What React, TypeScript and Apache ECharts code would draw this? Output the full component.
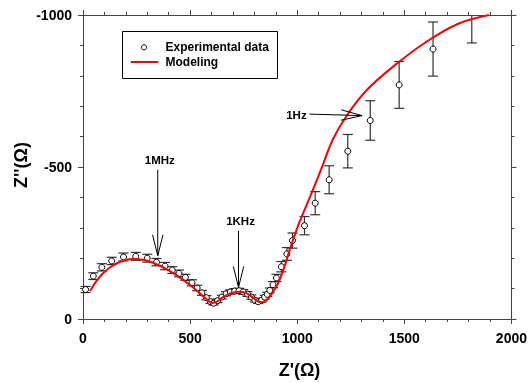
import { useEffect, useRef } from "react";
import * as echarts from "echarts";

// Experimental data: Z' (Ω), Z'' (Ω), error (Ω)
const expX = [12, 48, 88, 134, 189, 246, 300, 343, 383, 417, 448, 478, 509, 533, 555, 576, 595, 610, 628, 648, 668, 688, 708, 728, 748, 768, 786, 802, 818, 834, 848, 860, 872, 887, 903, 926, 952, 978, 1034, 1084, 1149, 1236, 1341, 1476, 1634, 1815];
const expZ = [-97, -141, -170, -191, -204, -206, -200, -187, -174, -161, -150, -137, -119, -102, -86, -70, -57, -52, -60, -72, -83, -89, -92, -93, -89, -82, -72, -62, -57, -62, -72, -81, -94, -113, -135, -172, -214, -258, -307, -381, -458, -552, -653, -770, -888, -1009];
const expErr = [10, 11, 12, 12, 13, 13, 13, 12, 12, 11, 11, 10, 10, 9, 8, 7, 6, 6, 6, 6, 7, 7, 8, 8, 8, 8, 7, 6, 6, 6, 6, 7, 8, 10, 12, 17, 21, 25, 30, 38, 46, 55, 65, 77, 89, 101];

// Model curve
const modelX = [33, 60, 90, 130, 180, 232, 290, 343, 400, 440, 480, 524, 560, 588, 605, 622, 650, 690, 726, 760, 790, 815, 835, 855, 880, 911, 942, 965, 1003, 1057, 1111, 1165, 1234, 1326, 1449, 1603, 1757, 1895];
const modelZ = [-92, -122, -148, -172, -190, -197, -193, -180, -160, -142, -122, -98, -76, -58, -53, -56, -70, -85, -90, -86, -72, -58, -55, -61, -82, -118, -175, -228, -305, -397, -491, -589, -672, -754, -831, -912, -973, -1000];

const xMin = 0, xMax = 2000, xStep = 500;
const yMin = -1000, yMax = 0, yStep = 500;

const legendLabels = ["Experimental data", "Modeling"];
const axisNames = ["Z'(Ω)", "Z''(Ω)"];

// Frequency annotations: label, arrow start and arrow tip in data units
const annLabels = ["1MHz", "1KHz", "1Hz"];
const annFrom = [[349, -491], [726, -290], [1057, -674]];
const annTo = [[349, -208], [726, -104], [1303, -669]];

const FONT = "'Liberation Sans', Arial, Helvetica, sans-serif";
const AXIS_COLOR = "#444";

export default function App() {
  const ref = useRef<HTMLDivElement>(null);

  useEffect(() => {
    if (!ref.current) return;
    const chart = echarts.init(ref.current, null, { renderer: "svg" });

    const expData = expX.map((x, i) => [x, expZ[i], expErr[i]]);
    const modelData = modelX.map((x, i) => [x, modelZ[i]]);

    const axisCommon = {
      axisLine: { show: true, onZero: false, lineStyle: { color: AXIS_COLOR, width: 1 } },
      axisTick: { show: true, inside: false, length: 5, lineStyle: { color: AXIS_COLOR, width: 1 } },
      minorTick: { show: true, splitNumber: 5, length: 3, lineStyle: { color: AXIS_COLOR, width: 1 } },
      splitLine: { show: false },
      minorSplitLine: { show: false },
    };
    const labelStyle = {
      color: "#000",
      fontWeight: "bold" as const,
      fontSize: 14,
      fontFamily: FONT,
      formatter: (v: number) => String(v),
    };

    const option: any = {
      animation: false,
      grid: { left: 83, right: 14, top: 15, bottom: 64, containLabel: false },
      xAxis: [
        { type: "value", min: xMin, max: xMax, interval: xStep, position: "bottom", ...axisCommon, axisLabel: { ...labelStyle, margin: 12 } },
        { type: "value", min: xMin, max: xMax, interval: xStep, position: "top", ...axisCommon, axisLabel: { show: false } },
      ],
      yAxis: [
        { type: "value", min: yMin, max: yMax, interval: yStep, inverse: true, position: "left", ...axisCommon, axisLabel: { ...labelStyle, margin: 11 } },
        { type: "value", min: yMin, max: yMax, interval: yStep, inverse: true, position: "right", ...axisCommon, axisLabel: { show: false } },
      ],
      series: [
        {
          type: "custom",
          name: "errors",
          xAxisIndex: 0,
          yAxisIndex: 0,
          data: expData,
          encode: { x: 0, y: 1 },
          z: 2,
          renderItem: (params: any, api: any) => {
            const x = api.value(0);
            const y = api.value(1);
            const e = api.value(2);
            const top = api.coord([x, y - e]);
            const bot = api.coord([x, y + e]);
            const cs = params.coordSys;
            const half = 5;
            const style = { stroke: "#333", lineWidth: 1.2 };
            const children: any[] = [];
            const yTop = Math.max(top[1], cs.y);
            children.push({ type: "line", shape: { x1: top[0], y1: yTop, x2: bot[0], y2: bot[1] }, style });
            if (top[1] >= cs.y) {
              children.push({ type: "line", shape: { x1: top[0] - half, y1: top[1], x2: top[0] + half, y2: top[1] }, style });
            }
            children.push({ type: "line", shape: { x1: bot[0] - half, y1: bot[1], x2: bot[0] + half, y2: bot[1] }, style });
            return { type: "group", children };
          },
        },
        {
          type: "scatter",
          name: legendLabels[0],
          data: expData.map((d) => [d[0], d[1]]),
          symbol: "circle",
          symbolSize: 6,
          clip: true,
          z: 3,
          itemStyle: { color: "#fff", borderColor: "#000", borderWidth: 1, opacity: 1 },
        },
        {
          type: "line",
          name: legendLabels[1],
          data: modelData,
          smooth: 0.3,
          showSymbol: false,
          symbol: "none",
          z: 4,
          lineStyle: { color: "#ff0000", width: 2 },
        },
      ],
      graphic: [
        // legend
        { type: "rect", shape: { x: 122.5, y: 31.5, width: 155, height: 47 }, style: { fill: "#fff", stroke: "#000", lineWidth: 1 }, z: 10 },
        { type: "circle", shape: { cx: 144, cy: 47.3, r: 2.6 }, style: { fill: "#fff", stroke: "#000", lineWidth: 1 }, z: 11 },
        { type: "line", shape: { x1: 130.7, y1: 62, x2: 158.3, y2: 62 }, style: { stroke: "#ff0000", lineWidth: 2 }, z: 11 },
        { type: "text", x: 165.5, y: 47.3, style: { text: legendLabels[0], font: `bold 12px ${FONT}`, fill: "#000", textAlign: "left", textVerticalAlign: "middle" }, z: 11 },
        { type: "text", x: 165.5, y: 62.3, style: { text: legendLabels[1], font: `bold 12px ${FONT}`, fill: "#000", textAlign: "left", textVerticalAlign: "middle" }, z: 11 },
        // axis names
        { type: "text", x: 299.5, y: 370, style: { text: axisNames[0], font: `bold 18px ${FONT}`, fill: "#000", textAlign: "center", textVerticalAlign: "middle" } },
        { type: "text", x: 21, y: 165, rotation: Math.PI / 2, style: { text: axisNames[1], font: `bold 18px ${FONT}`, fill: "#000", textAlign: "center", textVerticalAlign: "middle" } },
      ],
    };

    chart.setOption(option);

    // Annotation arrows, placed through the chart's own coordinate conversion
    const ann: any[] = [];
    annLabels.forEach((label, i) => {
      const p0 = chart.convertToPixel({ xAxisIndex: 0, yAxisIndex: 0 }, annFrom[i]) as number[];
      const p1 = chart.convertToPixel({ xAxisIndex: 0, yAxisIndex: 0 }, annTo[i]) as number[];
      const dx = p1[0] - p0[0];
      const dy = p1[1] - p0[1];
      const len = Math.hypot(dx, dy) || 1;
      const ux = dx / len, uy = dy / len;
      const nx = -uy, ny = ux;
      const headLen = 21, headHalf = 5.2;
      const bx = p1[0] - ux * headLen, by = p1[1] - uy * headLen;
      const st = { stroke: "#000", lineWidth: 1 };
      ann.push({ type: "line", shape: { x1: p0[0], y1: p0[1], x2: p1[0], y2: p1[1] }, style: st, z: 12 });
      ann.push({ type: "polyline", shape: { points: [[bx + nx * headHalf, by + ny * headHalf], [p1[0], p1[1]], [bx - nx * headHalf, by - ny * headHalf]] }, style: { ...st, fill: "none" }, z: 12 });
      const vertical = Math.abs(dy) > Math.abs(dx);
      const tx = vertical ? p0[0] + 2 : p0[0] - 13;
      const ty = vertical ? p0[1] - 10 : p0[1] + 0.5;
      ann.push({ type: "text", x: tx, y: ty, style: { text: label, font: `bold 11.5px ${FONT}`, fill: "#000", textAlign: "center", textVerticalAlign: "middle" }, z: 12 });
    });
    chart.setOption({ graphic: [...option.graphic, ...ann] });

    return () => chart.dispose();
  }, []);

  return <div ref={ref} style={{ position: "fixed", left: 0, top: 0, width: 530, height: 383 }} />;
}
